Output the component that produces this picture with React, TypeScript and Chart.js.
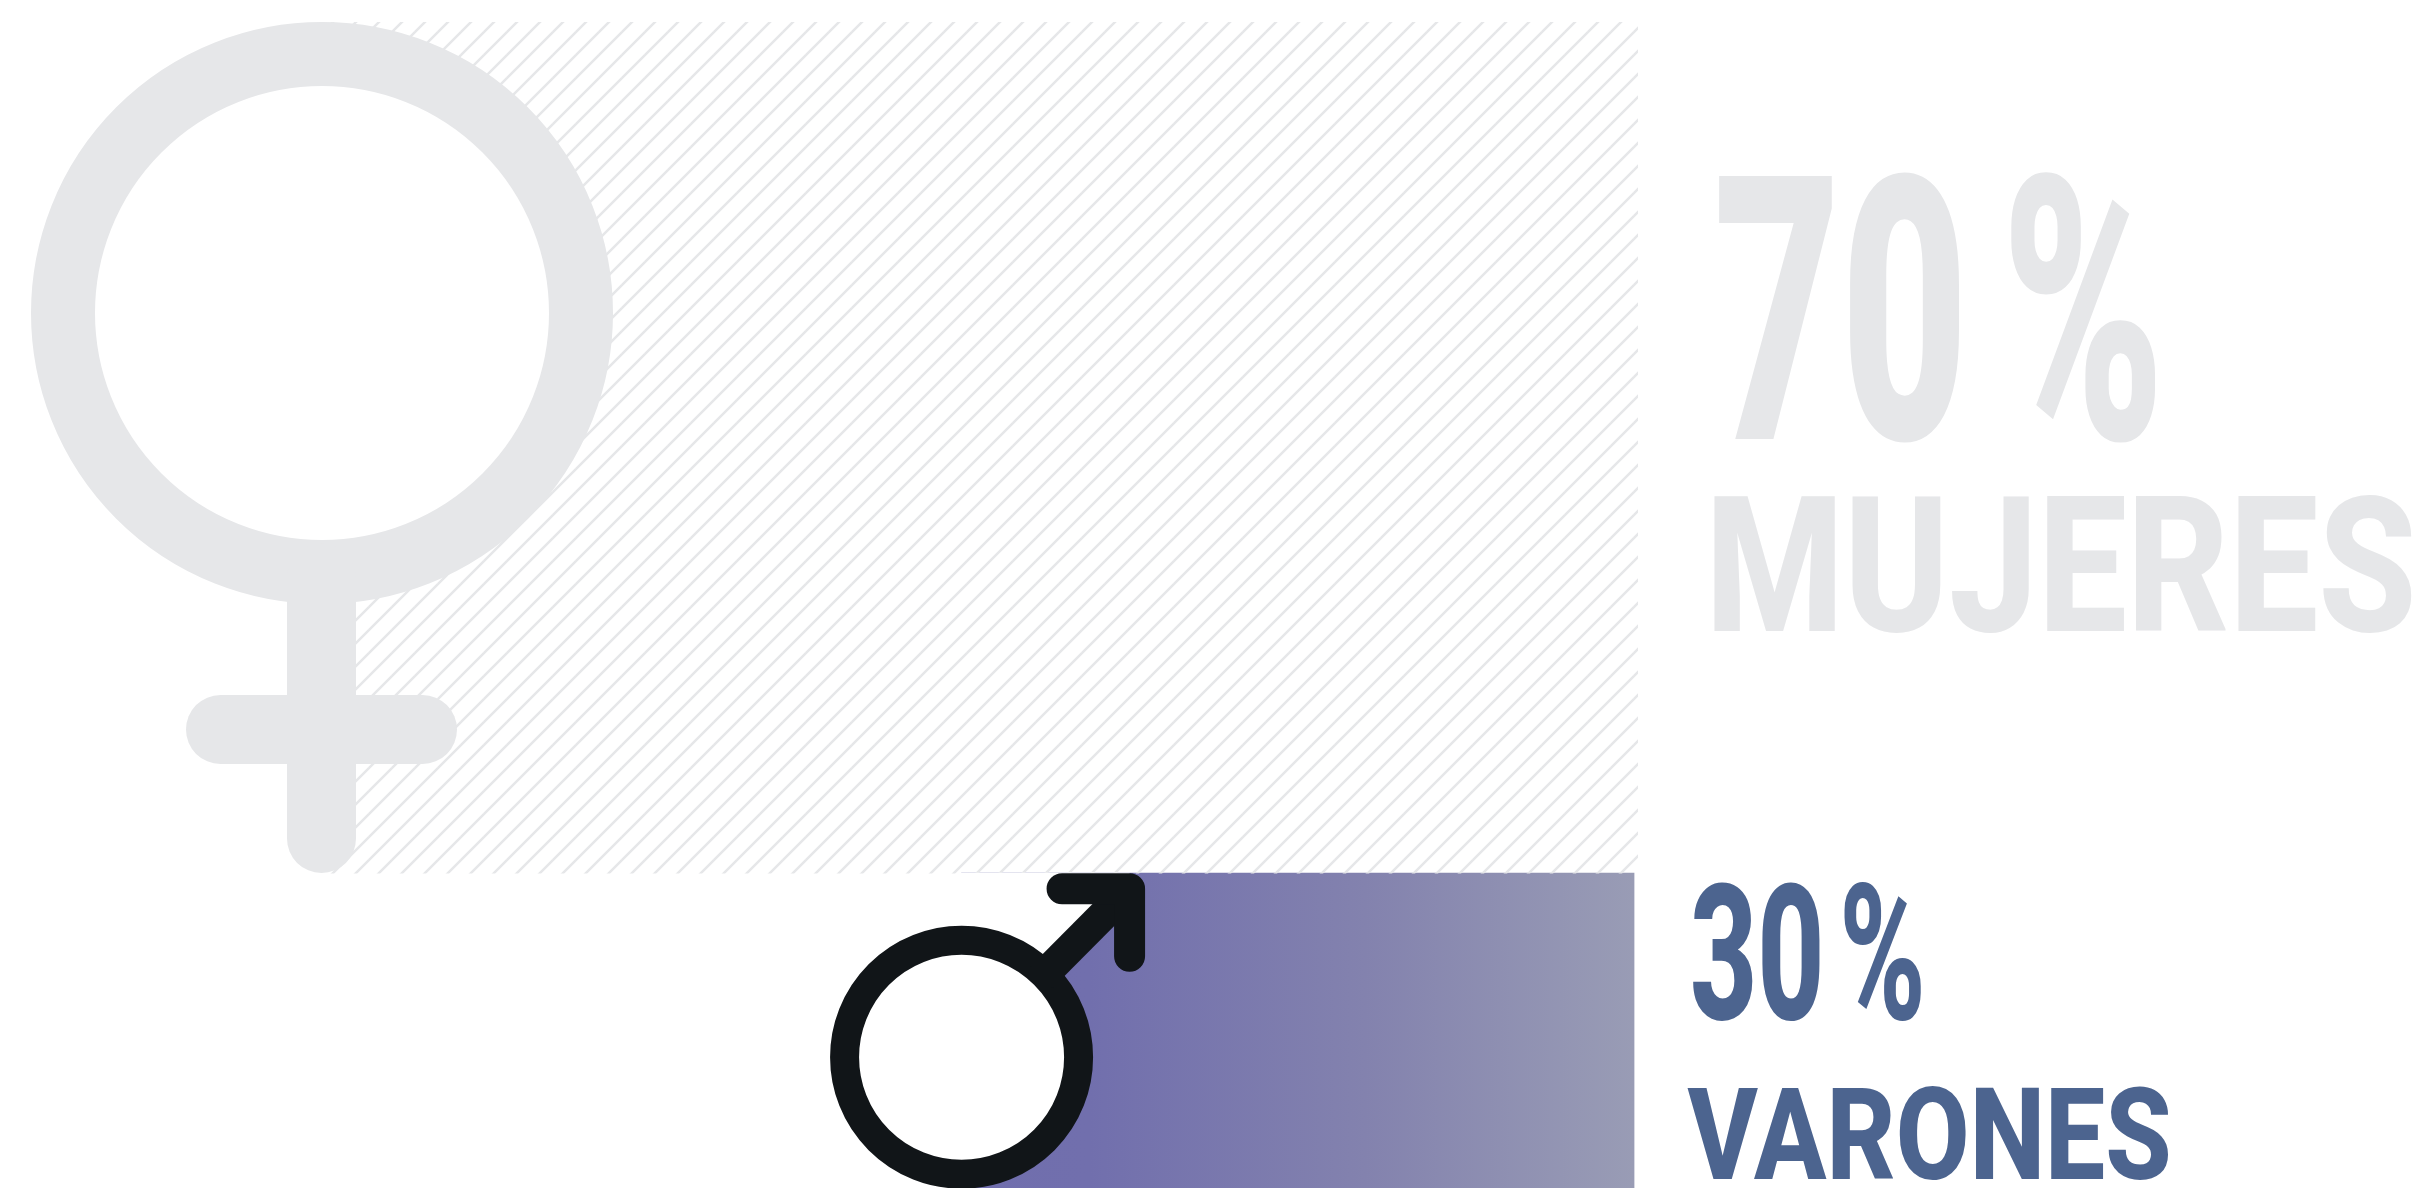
import React, { useEffect, useRef } from "react";
import { Chart, registerables } from "chart.js";

Chart.register(...registerables);

const categories = ["MUJERES", "VARONES"];
const percentages = [70, 30];
// Extents of each block (both axes run 0-100).
const barStart = [0, 48.6];
const barEnd = [100, 99.7];
const bandTop = [0, 73];
const bandBottom = [73, 100];

const WIDTH = 2429;
const HEIGHT = 1188;
const PAD = { left: 322, right: 791, top: 22, bottom: 0 };
const PLOT_H = HEIGHT - PAD.top - PAD.bottom;

const LIGHT = "#e6e7e9";
const BLUE = "#4c648f";
const DARK = "#111518";

function makeHatch(): CanvasPattern | string {
  const size = 23;
  const tile = document.createElement("canvas");
  tile.width = size;
  tile.height = size;
  const c = tile.getContext("2d")!;
  c.strokeStyle = LIGHT;
  c.lineWidth = 2.5;
  for (let k = -1; k <= 2; k++) {
    const a = 10 + size * k;
    c.beginPath();
    c.moveTo(a + 2, -2);
    c.lineTo(a - size - 2, size + 2);
    c.stroke();
  }
  return c.createPattern(tile, "repeat") || LIGHT;
}

// Draws text squeezed horizontally so its ink spans x0..xHead (head part) and
// ends at xEnd, with the gap at the space taking up the rest.
function fitText(
  ctx: CanvasRenderingContext2D,
  text: string,
  head: string,
  x0: number,
  xHead: number,
  xEnd: number,
  baseline: number,
  cap: number,
  weight: number,
  color: string
) {
  ctx.save();
  ctx.font = `${weight} ${cap / 0.711}px Roboto`;
  ctx.fillStyle = color;
  ctx.textBaseline = "alphabetic";
  ctx.textAlign = "left";
  const hm = ctx.measureText(head);
  const inkW = hm.actualBoundingBoxRight + hm.actualBoundingBoxLeft;
  const sx = (xHead - x0) / inkW;
  if (head !== text) {
    const m = ctx.measureText(text);
    const natural = m.actualBoundingBoxRight + m.actualBoundingBoxLeft;
    (ctx as any).wordSpacing = `${(xEnd - x0) / sx - natural}px`;
  }
  ctx.translate(x0 + hm.actualBoundingBoxLeft * sx, baseline);
  ctx.scale(sx, 1);
  ctx.fillText(text, 0, 0);
  ctx.restore();
}

const symbolsAndLabels = {
  id: "symbolsAndLabels",
  afterDatasetsDraw(chart: any) {
    const { ctx, scales } = chart;
    const fx = scales.x.getPixelForValue(barStart[0]);
    const fTop = scales.y.getPixelForValue(bandTop[0]);
    const mx = scales.x.getPixelForValue(barStart[1]);
    const mTop = scales.y.getPixelForValue(bandTop[1]);
    const fRight = scales.x.getPixelForValue(barEnd[0]);

    ctx.save();
    // Female symbol
    const fy = fTop + 291;
    ctx.fillStyle = "#ffffff";
    ctx.beginPath();
    ctx.arc(fx, fy, 230, 0, Math.PI * 2);
    ctx.fill();
    ctx.strokeStyle = LIGHT;
    ctx.lineWidth = 64;
    ctx.beginPath();
    ctx.arc(fx, fy, 259, 0, Math.PI * 2);
    ctx.stroke();
    ctx.lineCap = "round";
    ctx.lineWidth = 69;
    ctx.beginPath();
    ctx.moveTo(fx - 0.5, fy + 265);
    ctx.lineTo(fx - 0.5, fTop + 816.5);
    ctx.stroke();
    ctx.beginPath();
    ctx.moveTo(fx - 101.5, fTop + 707.5);
    ctx.lineTo(fx + 100.5, fTop + 707.5);
    ctx.stroke();

    // Male symbol: the white wedge above the shaft hides the block's corner
    const my = mTop + 184;
    const ax = mx + 168;
    const ay = mTop + 15.5;
    ctx.fillStyle = "#ffffff";
    ctx.beginPath();
    ctx.moveTo(mx - 1, mTop - 0.5);
    ctx.lineTo(ax, mTop - 0.5);
    ctx.lineTo(ax, ay);
    ctx.lineTo(mx, my);
    ctx.lineTo(mx - 1, my);
    ctx.closePath();
    ctx.fill();
    ctx.beginPath();
    ctx.arc(mx, my, 105, 0, Math.PI * 2);
    ctx.fill();
    ctx.strokeStyle = DARK;
    ctx.lineCap = "butt";
    ctx.lineWidth = 29;
    ctx.beginPath();
    ctx.arc(mx, my, 117, 0, Math.PI * 2);
    ctx.stroke();
    ctx.lineWidth = 31;
    ctx.beginPath();
    ctx.moveTo(mx + 80, my - 80);
    ctx.lineTo(ax, ay);
    ctx.stroke();
    ctx.lineCap = "round";
    ctx.lineJoin = "round";
    ctx.beginPath();
    ctx.moveTo(ax - 67.5, ay);
    ctx.lineTo(ax, ay);
    ctx.lineTo(ax, ay + 67.5);
    ctx.stroke();
    ctx.restore();

    // Labels
    fitText(ctx, `${percentages[0]} %`, `${percentages[0]}`, fRight + 79, fRight + 323, fRight + 518, fTop + 417, 263, 900, LIGHT);
    fitText(ctx, categories[0], categories[0], fRight + 76.5, fRight + 773, fRight + 773, fTop + 609, 134.7, 800, LIGHT);
    fitText(ctx, `${percentages[1]} %`, `${percentages[1]}`, fRight + 55, fRight + 182, fRight + 283, mTop + 145.5, 135, 800, BLUE);
    fitText(ctx, categories[1], categories[1], fRight + 49.5, fRight + 530, fRight + 530, mTop + 306, 91, 800, BLUE);
  },
};

export default function App() {
  const ref = useRef<HTMLCanvasElement>(null);
  useEffect(() => {
    const canvas = ref.current!;
    const maleGradient = (ctx: any) => {
      const { chart } = ctx;
      if (!chart.chartArea) return "#7f7fb0";
      const left = chart.scales.x.getPixelForValue(barStart[1]);
      const right = chart.scales.x.getPixelForValue(barEnd[1]);
      const g = chart.ctx.createLinearGradient(left, 0, right, 0);
      g.addColorStop(0, "#706ead");
      g.addColorStop(0.19, "#716fad");
      g.addColorStop(0.6, "#8382ae");
      g.addColorStop(1, "#999cb5");
      return g;
    };
    const fills: any[] = [makeHatch(), maleGradient];
    const chart = new Chart(canvas, {
      type: "bar",
      data: {
        datasets: categories.map((label, i) => ({
          label,
          data: [{ x: [barStart[i], barEnd[i]], y: (bandTop[i] + bandBottom[i]) / 2 }],
          backgroundColor: fills[i],
          borderWidth: 0,
          barThickness: ((bandBottom[i] - bandTop[i]) / 100) * PLOT_H,
          grouped: false,
        })),
      } as any,
      options: {
        indexAxis: "y",
        responsive: false,
        animation: false,
        layout: { padding: PAD },
        scales: {
          x: { type: "linear", min: 0, max: 100, display: false },
          y: { type: "linear", min: 0, max: 100, reverse: true, display: false, offset: false },
        },
        plugins: { legend: { display: false }, tooltip: { enabled: false } },
      } as any,
      plugins: [symbolsAndLabels],
    });
    return () => chart.destroy();
  }, []);
  return (
    <div style={{ position: "absolute", left: 0, top: 0, width: WIDTH, height: HEIGHT, background: "#ffffff", overflow: "hidden" }}>
      <canvas ref={ref} width={WIDTH} height={HEIGHT} style={{ display: "block" }} />
    </div>
  );
}
